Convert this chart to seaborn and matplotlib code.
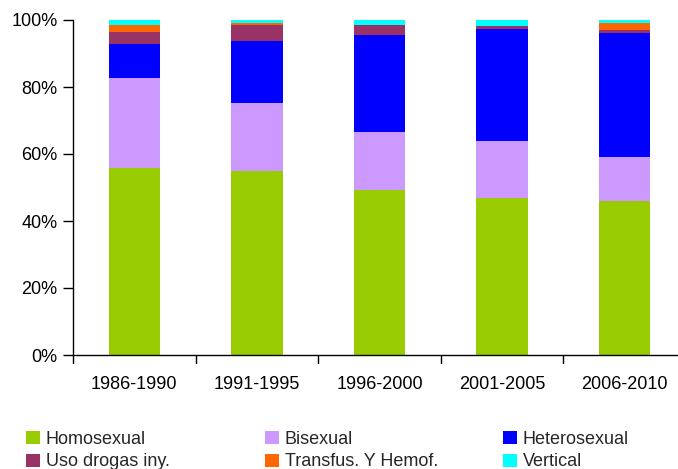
import matplotlib
matplotlib.use("Agg")
import matplotlib.pyplot as plt
import seaborn as sns
import pandas as pd
import numpy as np
from matplotlib.patches import Patch

periods = ["1986-1990", "1991-1995", "1996-2000", "2001-2005", "2006-2010"]
homosexual = [55.8, 54.9, 49.3, 46.9, 46.0]
bisexual = [26.9, 20.3, 17.3, 17.0, 13.1]
heterosexual = [10.1, 18.5, 28.9, 33.3, 36.9]
drogas = [3.6, 4.8, 3.0, 1.0, 1.0]
transfus = [2.1, 0.7, 0.0, 0.1, 2.2]
vertical = [1.5, 0.8, 1.5, 1.7, 0.8]

series_names = ["Homosexual", "Bisexual", "Heterosexual", "Uso drogas iny.",
                "Transfus. Y Hemof.", "Vertical"]
series_vals = [homosexual, bisexual, heterosexual, drogas, transfus, vertical]
colors = ["#99CC00", "#CC99FF", "#0000FF", "#993366", "#FF6600", "#00FFFF"]

sns.set_theme(style="white")
plt.rcParams["font.family"] = ["Liberation Sans", "DejaVu Sans"]

fig = plt.figure(figsize=(6.78, 4.69), dpi=100)
ax = fig.add_axes([73/678, 114/469, 613/678, 335/469])

bottom = np.zeros(len(periods))
for name, vals, col in zip(series_names, series_vals, colors):
    v = np.array(vals) / 100.0
    df = pd.DataFrame({"period": periods, "value": v})
    sns.barplot(data=df, x="period", y="value", color=col, bottom=bottom,
                width=0.42, ax=ax, linewidth=0, saturation=1, order=periods,
                errorbar=None)
    bottom = bottom + v

ax.set_xlim(-0.5, 4.5)
ax.set_ylim(0, 1.0)
ax.set_yticks(np.arange(0, 1.01, 0.2))
ax.set_yticklabels([f"{int(round(t*100))}%" for t in np.arange(0, 1.01, 0.2)])
ax.set_xlabel("")
ax.set_ylabel("")
ax.set_xticks(range(len(periods)))
ax.set_xticklabels(periods)
ax.tick_params(axis="x", length=0, pad=15, labelsize=13, colors="black")
ax.tick_params(axis="y", length=7, width=1, direction="out", pad=4,
               labelsize=13, colors="black", left=True)
# boundary ticks on x axis
for b in np.arange(-0.5, 4.6, 1.0):
    ax.plot([b, b], [0, -0.025], color="black", lw=1, clip_on=False,
            transform=ax.transData)
for s in ["top", "right"]:
    ax.spines[s].set_visible(False)
for s in ["left", "bottom"]:
    ax.spines[s].set_color("black")
    ax.spines[s].set_linewidth(1)

handles = [Patch(facecolor=c, edgecolor="none") for c in colors]
cols = [(0, 3), (1, 4), (2, 5)]
xs = [26/678, 265/678, 503/678]
for (i, j), x in zip(cols, xs):
    fig.legend([handles[i], handles[j]], [series_names[i], series_names[j]],
               loc="upper left", bbox_to_anchor=(x, 38/469), frameon=False,
               fontsize=13, handlelength=0.75, handleheight=0.75,
               handletextpad=0.35, labelspacing=0.3, borderpad=0,
               borderaxespad=0)

fig.savefig("out.png", dpi=100)
